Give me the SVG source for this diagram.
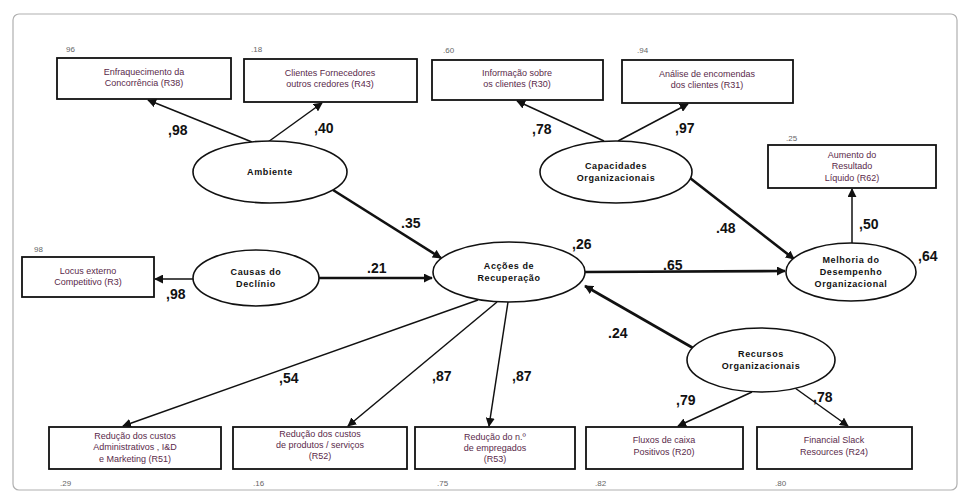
<svg xmlns="http://www.w3.org/2000/svg" width="965" height="496" viewBox="0 0 965 496">
<style>
.box{fill:#fff;stroke:#111;stroke-width:1.8}
.ell{fill:#fff;stroke:#111;stroke-width:1.6}
.bt{font-family:"Liberation Sans",Arial,sans-serif;font-size:9px;fill:#5a2a4a;text-anchor:middle}
.et{font-family:"Liberation Sans",Arial,sans-serif;font-size:9px;font-weight:bold;fill:#111;text-anchor:middle;letter-spacing:0.6px}
.sm{font-family:"Liberation Sans",Arial,sans-serif;font-size:8px;fill:#666}
.cf{font-family:"Liberation Sans",Arial,sans-serif;font-size:14px;font-weight:bold;fill:#111}
.ln{stroke:#111;stroke-width:1.5;fill:none;marker-end:url(#ah)}
.lt{stroke:#111;stroke-width:2.6;fill:none;marker-end:url(#ah)}
</style>
<defs>
<marker id="ah" viewBox="0 0 10 10" refX="9" refY="5" markerWidth="9" markerHeight="9" markerUnits="userSpaceOnUse" orient="auto">
<path d="M0,0 L10,5 L0,10 z" fill="#111"/>
</marker>
</defs>
<rect x="0" y="0" width="965" height="496" fill="#fff"/>
<rect x="13" y="14" width="944" height="476" rx="6" fill="none" stroke="#b0b0b0" stroke-width="1.2"/>

<g id="connectors">
<line class="ln" x1="252" y1="142" x2="148" y2="100"/>
<line class="ln" x1="268" y1="142" x2="322" y2="103"/>
<line class="ln" x1="604" y1="141" x2="517" y2="101"/>
<line class="ln" x1="618" y1="141" x2="688" y2="104"/>
<line class="ln" x1="852" y1="243" x2="852" y2="189"/>
<line class="ln" x1="193" y1="279" x2="155" y2="279"/>
<line class="lt" x1="333" y1="190" x2="441" y2="258"/>
<line class="lt" x1="319" y1="278" x2="432" y2="278"/>
<line class="lt" x1="585" y1="272" x2="785" y2="271"/>
<line class="lt" x1="690" y1="178" x2="794" y2="259"/>
<line class="lt" x1="693" y1="348" x2="585" y2="286"/>
<line class="ln" x1="478" y1="300" x2="123" y2="426"/>
<line class="ln" x1="497" y1="302" x2="348" y2="426"/>
<line class="ln" x1="508" y1="302" x2="489" y2="426"/>
<line class="ln" x1="752" y1="392" x2="678" y2="426"/>
<line class="ln" x1="795" y1="388" x2="848" y2="426"/>
</g>

<g id="n_r38"><rect class="box" x="57" y="58" width="174" height="41"/>
<text class="bt" x="144" y="75">Enfraquecimento da</text><text class="bt" x="144" y="86">Concorrência  (R38)</text>
<text class="sm" x="66" y="52">96</text></g>
<g id="n_r43"><rect class="box" x="244" y="59" width="173" height="43"/>
<text class="bt" x="330" y="76">Clientes Fornecedores</text><text class="bt" x="330" y="87">outros credores  (R43)</text>
<text class="sm" x="251" y="52">.18</text></g>
<g id="n_r30"><rect class="box" x="432" y="60" width="171" height="40"/>
<text class="bt" x="517" y="76">Informação sobre</text><text class="bt" x="517" y="87">os clientes (R30)</text>
<text class="sm" x="443" y="53">.60</text></g>
<g id="n_r31"><rect class="box" x="622" y="60" width="171" height="43"/>
<text class="bt" x="707" y="77">Análise de encomendas</text><text class="bt" x="707" y="88">dos clientes  (R31)</text>
<text class="sm" x="637" y="53">.94</text></g>
<g id="n_r62"><rect class="box" x="768" y="145" width="168" height="43"/>
<text class="bt" x="852" y="158">Aumento do</text><text class="bt" x="852" y="169">Resultado</text><text class="bt" x="852" y="181">Líquido  (R62)</text>
<text class="sm" x="786" y="141">.25</text></g>
<g id="n_r3"><rect class="box" x="22" y="257" width="132" height="40"/>
<text class="bt" x="88" y="274">Locus externo</text><text class="bt" x="88" y="285">Competitivo (R3)</text>
<text class="sm" x="34" y="252">98</text></g>
<g id="n_r51"><rect class="box" x="49" y="427" width="172" height="42"/>
<text class="bt" x="135" y="439">Redução dos custos</text><text class="bt" x="135" y="450">Administrativos , I&amp;D</text><text class="bt" x="135" y="462">e Marketing  (R51)</text>
<text class="sm" x="60" y="486">.29</text></g>
<g id="n_r52"><rect class="box" x="233" y="427" width="174" height="42"/>
<text class="bt" x="320" y="437">Redução dos custos</text><text class="bt" x="320" y="448">de produtos / serviços</text><text class="bt" x="320" y="459">(R52)</text>
<text class="sm" x="253" y="486">.16</text></g>
<g id="n_r53"><rect class="box" x="415" y="427" width="160" height="42"/>
<text class="bt" x="495" y="440">Redução do n.º</text><text class="bt" x="495" y="451">de empregados</text><text class="bt" x="495" y="462">(R53)</text>
<text class="sm" x="437" y="486">.75</text></g>
<g id="n_r20"><rect class="box" x="586" y="427" width="157" height="42"/>
<text class="bt" x="664" y="443">Fluxos de caixa</text><text class="bt" x="664" y="455">Positivos  (R20)</text>
<text class="sm" x="595" y="486">.82</text></g>
<g id="n_r24"><rect class="box" x="757" y="427" width="155" height="42"/>
<text class="bt" x="834" y="443">Financial Slack</text><text class="bt" x="834" y="455">Resources  (R24)</text>
<text class="sm" x="775" y="486">.80</text></g>

<g id="n_ambiente"><ellipse class="ell" cx="270" cy="172" rx="77" ry="31"/>
<text class="et" x="270" y="175">Ambiente</text></g>
<g id="n_causas"><ellipse class="ell" cx="256" cy="278" rx="63" ry="28"/>
<text class="et" x="256" y="275">Causas do</text><text class="et" x="256" y="287">Declínio</text></g>
<g id="n_accoes"><ellipse class="ell" cx="509" cy="272" rx="76" ry="30"/>
<text class="et" x="509" y="269">Acções de</text><text class="et" x="509" y="281">Recuperação</text></g>
<g id="n_capacidades"><ellipse class="ell" cx="616" cy="172" rx="76" ry="31"/>
<text class="et" x="616" y="169">Capacidades</text><text class="et" x="616" y="181">Organizacionais</text></g>
<g id="n_melhoria"><ellipse class="ell" cx="851" cy="272" rx="65" ry="29"/>
<text class="et" x="851" y="263">Melhoria do</text><text class="et" x="851" y="275">Desempenho</text><text class="et" x="851" y="287">Organizacional</text></g>
<g id="n_recursos"><ellipse class="ell" cx="761" cy="360" rx="74" ry="32"/>
<text class="et" x="761" y="357">Recursos</text><text class="et" x="761" y="369">Organizacionais</text></g>

<g id="coefs">
<text class="cf" x="168" y="135">,98</text>
<text class="cf" x="314" y="133">,40</text>
<text class="cf" x="532" y="134">,78</text>
<text class="cf" x="675" y="133">,97</text>
<text class="cf" x="859" y="229">,50</text>
<text class="cf" x="401" y="228">.35</text>
<text class="cf" x="367" y="273">.21</text>
<text class="cf" x="572" y="249">,26</text>
<text class="cf" x="663" y="270">.65</text>
<text class="cf" x="716" y="233">.48</text>
<text class="cf" x="918" y="261">,64</text>
<text class="cf" x="166" y="299">,98</text>
<text class="cf" x="608" y="338">.24</text>
<text class="cf" x="279" y="383">,54</text>
<text class="cf" x="432" y="381">,87</text>
<text class="cf" x="512" y="381">,87</text>
<text class="cf" x="676" y="405">,79</text>
<text class="cf" x="813" y="402">,78</text>
</g>
</svg>
